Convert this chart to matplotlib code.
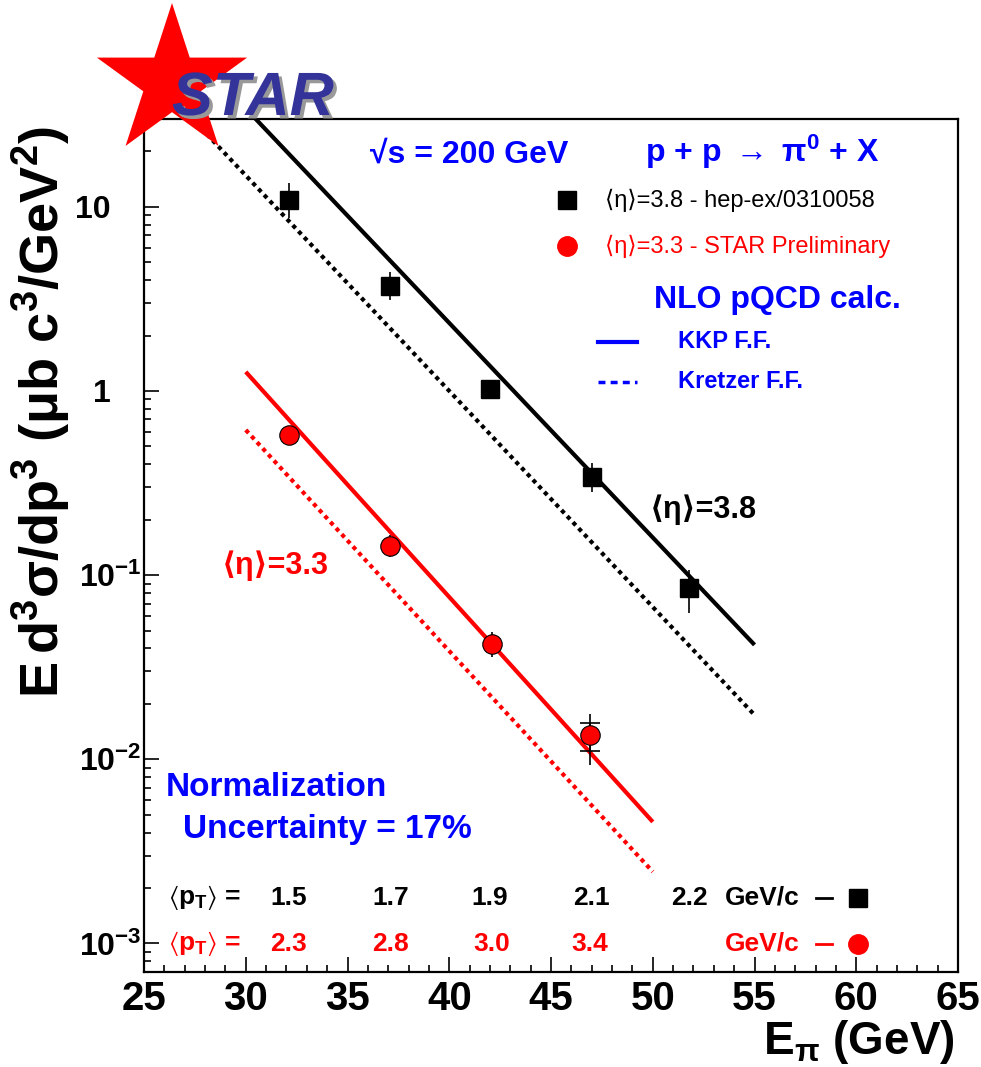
import numpy as np
import matplotlib
matplotlib.use("Agg")
import matplotlib.pyplot as plt
import matplotlib.ticker as ticker
import matplotlib.patheffects as pe
from matplotlib.patches import Polygon

plt.rcParams['font.family'] = ['Liberation Sans', 'DejaVu Sans']
plt.rcParams['mathtext.fontset'] = 'custom'
plt.rcParams['mathtext.rm'] = 'Liberation Sans:bold'
plt.rcParams['mathtext.it'] = 'Liberation Sans:italic:bold'
plt.rcParams['mathtext.bf'] = 'Liberation Sans:bold'
plt.rcParams['mathtext.default'] = 'rm'
plt.rcParams['mathtext.fallback'] = 'stixsans'

BLUE = '#0000ff'
RED = '#ff0000'

# <eta> = 3.8 data (hep-ex/0310058)
E_38 = [32.1, 37.1, 42.0, 47.0, 51.8]
xs_38 = [10.9, 3.72, 1.03, 0.341, 0.085]
err_lo_38 = [2.2, 0.60, 0.11, 0.058, 0.023]
err_hi_38 = [2.6, 0.71, 0.12, 0.066, 0.022]
pt_38 = ['1.5', '1.7', '1.9', '2.1', '2.2']

# <eta> = 3.3 data (STAR preliminary)
E_33 = [32.1, 37.1, 42.1, 46.9]
xs_33 = [0.577, 0.144, 0.0423, 0.01355]
err_lo_33 = [0.048, 0.019, 0.0063, 0.00422]
err_hi_33 = [0.053, 0.021, 0.0069, 0.0041]
# capped inner error on the last point
cap_lo_33 = [0.00244]
cap_hi_33 = [0.00222]
pt_33 = ['2.3', '2.8', '3.0', '3.4']

# NLO pQCD curves
kkp_E_38 = [30, 35, 40, 45, 50, 55]
kkp_38 = [34.2, 8.95, 2.34, 0.611, 0.160, 0.0418]
kre_E_38 = [25, 30, 35, 40, 45, 50, 55]
kre_38 = [57.0, 14.8, 3.85, 1.00, 0.259, 0.0671, 0.0174]
kkp_E_33 = [30, 35, 40, 45, 50]
kkp_33 = [1.27, 0.310, 0.0760, 0.01866, 0.00457]
kre_E_33 = [30, 35, 40, 45, 50]
kre_33 = [0.614, 0.154, 0.0387, 0.00975, 0.00245]

fig = plt.figure(figsize=(9.81, 10.67), dpi=100)
ax = fig.add_axes([0.1468, 0.0891, 0.8298, 0.7994])

ax.set_yscale('log')
ax.set_xlim(25, 65)
ax.set_ylim(7e-4, 30)

# theory curves
ax.plot(kkp_E_38, kkp_38, color='black', lw=3, solid_capstyle='butt')
ax.plot(kre_E_38, kre_38, color='black', lw=3, linestyle=(0, (1, 1)))
ax.plot(kkp_E_33, kkp_33, color=RED, lw=3, solid_capstyle='butt')
ax.plot(kre_E_33, kre_33, color=RED, lw=3, linestyle=(0, (1, 1)))

# data points
ax.errorbar(E_38, xs_38, yerr=[err_lo_38, err_hi_38], fmt='s', color='black',
            ms=13, elinewidth=1.2, capsize=0, zorder=5)
ax.errorbar(E_33, xs_33, yerr=[err_lo_33, err_hi_33], fmt='none',
            ecolor='black', elinewidth=1.2, capsize=0, zorder=5)
ax.errorbar(E_33[-1:], xs_33[-1:], yerr=[cap_lo_33, cap_hi_33], fmt='none',
            ecolor='black', elinewidth=1.2, capsize=7, capthick=1.2, zorder=5)
ax.plot(E_33, xs_33, 'o', color=RED, mec='black', mew=0.8, ms=14, zorder=6)

# axes styling
for s in ax.spines.values():
    s.set_linewidth(1.6)
ax.xaxis.set_major_locator(ticker.MultipleLocator(5))
ax.xaxis.set_minor_locator(ticker.MultipleLocator(1))
ax.yaxis.set_major_locator(ticker.FixedLocator([1e-3, 1e-2, 1e-1, 1, 10]))
ax.yaxis.set_major_formatter(ticker.FixedFormatter(
    ['$10^{-3}$', '$10^{-2}$', '$10^{-1}$', '1', '10']))
ax.yaxis.set_minor_locator(ticker.LogLocator(base=10, subs=np.arange(2, 10)))
ax.yaxis.set_minor_formatter(ticker.NullFormatter())
ax.tick_params(which='both', direction='in', top=False, right=False, width=1.2)
ax.tick_params(which='major', length=11)
ax.tick_params(which='minor', length=5)
ax.tick_params(axis='x', which='major', labelsize=29, pad=6)
ax.tick_params(axis='y', which='major', labelsize=23)
for lab in ax.get_xticklabels() + ax.get_yticklabels():
    lab.set_fontweight('bold')
for t, loc in zip(ax.yaxis.get_major_ticks(), [1e-3, 1e-2, 1e-1, 1, 10]):
    t.set_pad(2 if loc < 1 else 24)

ax.set_ylabel(r'E$\,$d$^3$σ/dp$^3$ (μb c$^3$/GeV$^2$)', fontsize=39,
              fontweight='bold', va='center')
ax.yaxis.set_label_coords(-0.126, 0.657)
fig.text(955 / 981, 1 - 1054 / 1067, r'E$_{\pi}$ (GeV)', fontsize=33,
         fontweight='bold', ha='right', va='baseline')

# header texts
ax.text(0.40, 0.958, '√s = 200 GeV', transform=ax.transAxes,
        color=BLUE, fontsize=23, fontweight='bold', ha='center', va='center')
ax.text(0.759, 0.961, r'p + p $\rightarrow$ π$^0$ + X', transform=ax.transAxes,
        color=BLUE, fontsize=23, fontweight='bold', ha='center', va='center')

# data legend
ax.plot([0.52], [0.905], 's', color='black', ms=13, transform=ax.transAxes)
ax.text(0.566, 0.905, '⟨η⟩=3.8 - hep-ex/0310058', transform=ax.transAxes,
        fontsize=17, va='center', color='black')
ax.plot([0.52], [0.851], 'o', color=RED, ms=14, transform=ax.transAxes)
ax.text(0.566, 0.851, '⟨η⟩=3.3 - STAR Preliminary', transform=ax.transAxes,
        fontsize=17, va='center', color=RED)

# theory legend
ax.text(0.778, 0.788, 'NLO pQCD calc.', transform=ax.transAxes, color=BLUE,
        fontsize=23, fontweight='bold', ha='center', va='center')
ax.plot([0.558, 0.606], [0.7386, 0.7386], color=BLUE, lw=3,
        transform=ax.transAxes)
ax.text(0.656, 0.7386, 'KKP F.F.', transform=ax.transAxes, color=BLUE,
        fontsize=17, fontweight='bold', va='center')
ax.plot([0.558, 0.606], [0.6917, 0.6917], color=BLUE, lw=2.5,
        linestyle=(0, (2, 1.5)), transform=ax.transAxes)
ax.text(0.656, 0.6917, 'Kretzer F.F.', transform=ax.transAxes, color=BLUE,
        fontsize=17, fontweight='bold', va='center')

# curve labels
ax.text(0.6216, 0.5416, '⟨η⟩=3.8', transform=ax.transAxes, color='black',
        fontsize=22, fontweight='bold', va='center')
ax.text(0.0958, 0.476, '⟨η⟩=3.3', transform=ax.transAxes, color=RED,
        fontsize=22, fontweight='bold', va='center')

ax.text(0.027, 0.2157, 'Normalization', transform=ax.transAxes, color=BLUE,
        fontsize=24, fontweight='bold', va='center')
ax.text(0.048, 0.1665, 'Uncertainty = 17%', transform=ax.transAxes,
        color=BLUE, fontsize=24, fontweight='bold', va='center')

# <pT> rows under each point
row_38, row_33 = 0.0868, 0.0332
tr = ax.get_xaxis_transform()
pt_lab = r'$\langle$p$_T\rangle$ ='
ax.text(0.029, row_38, pt_lab, transform=ax.transAxes, fontsize=19,
        fontweight='bold', va='center', color='black')
ax.text(0.029, row_33, pt_lab, transform=ax.transAxes, fontsize=19,
        fontweight='bold', va='center', color=RED)
for e, p in zip(E_38, pt_38):
    ax.text(e, row_38, p, transform=tr, fontsize=19, fontweight='bold',
            ha='center', va='center', color='black')
for e, p in zip(E_33, pt_33):
    ax.text(e, row_33, p, transform=tr, fontsize=19, fontweight='bold',
            ha='center', va='center', color=RED)
ax.text(0.805, row_38, 'GeV/c', transform=ax.transAxes, fontsize=19,
        fontweight='bold', ha='right', va='center', color='black')
ax.text(0.805, row_33, 'GeV/c', transform=ax.transAxes, fontsize=19,
        fontweight='bold', ha='right', va='center', color=RED)
ax.plot([0.825, 0.845], [row_38, row_38], color='black', lw=2,
        transform=ax.transAxes)
ax.plot([0.825, 0.845], [row_33, row_33], color=RED, lw=2,
        transform=ax.transAxes)
ax.plot([0.877], [row_38], 's', color='black', ms=13, transform=ax.transAxes)
ax.plot([0.877], [row_33], 'o', color=RED, ms=14, transform=ax.transAxes)

# STAR logo in the top-left corner
W, H = 981.0, 1067.0
cx, cy, r_out = 172.0, 82.0, 79.0
ang = np.pi / 2 + np.arange(10) * np.pi / 5
rad = np.where(np.arange(10) % 2 == 0, r_out, r_out * 0.382)
px = cx + rad * np.cos(ang)
py = cy - rad * np.sin(ang)
star = Polygon(np.column_stack([px / W, 1 - py / H]), closed=True,
               facecolor=RED, edgecolor='none', transform=fig.transFigure,
               zorder=10)
fig.add_artist(star)
fig.text(172 / W, 1 - 115 / H, 'STAR', fontsize=44, fontweight='bold',
         style='italic', color='#333399', ha='left', va='baseline', zorder=11,
         path_effects=[pe.SimplePatchShadow(offset=(2.5, -2.5),
                                            shadow_rgbFace='#999999',
                                            alpha=1.0),
                       pe.Normal()])

fig.savefig('out.png', dpi=100)
